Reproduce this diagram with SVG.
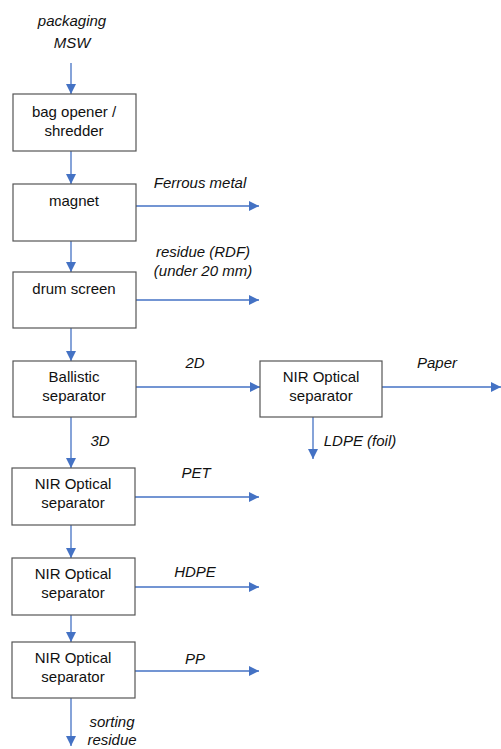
<svg xmlns="http://www.w3.org/2000/svg" width="501" height="749" viewBox="0 0 501 749">
<style>
.box{fill:#fff;stroke:#555;stroke-width:1.2}
.t{font-family:"Liberation Sans",Arial,sans-serif;font-size:15px;fill:#111;text-anchor:middle}
.l{font-family:"Liberation Sans",Arial,sans-serif;font-size:15px;font-style:italic;fill:#111;text-anchor:middle}
.c{stroke:#4472C4;stroke-width:1.3;fill:none;marker-end:url(#ah)}
</style>
<defs>
<marker id="ah" viewBox="0 0 10 10" refX="10" refY="5" markerWidth="10" markerHeight="10" markerUnits="userSpaceOnUse" orient="auto">
<path d="M0,0 L10,5 L0,10 Z" fill="#4472C4"/>
</marker>
</defs>
<g id="connectors">
<path class="c" d="M71,63 V94"/>
<path class="c" d="M71,151 V184"/>
<path class="c" d="M136,206 H259"/>
<path class="c" d="M71,241 V272"/>
<path class="c" d="M136,300 H259"/>
<path class="c" d="M71,328 V361"/>
<path class="c" d="M136,387 H260"/>
<path class="c" d="M382,387 H501"/>
<path class="c" d="M313,417 V459"/>
<path class="c" d="M71,417 V468"/>
<path class="c" d="M135,497 H259"/>
<path class="c" d="M71,525 V558"/>
<path class="c" d="M135,587 H259"/>
<path class="c" d="M71,615 V642"/>
<path class="c" d="M135,671 H259"/>
<path class="c" d="M71,698 V746"/>
</g>
<g id="labels">
<text class="l" x="72" y="26">packaging</text>
<text class="l" x="72" y="48">MSW</text>
<text class="l" x="200" y="188">Ferrous metal</text>
<text class="l" x="203" y="257">residue (RDF)</text>
<text class="l" x="203" y="276">(under 20 mm)</text>
<text class="l" x="195" y="368">2D</text>
<text class="l" x="437" y="368">Paper</text>
<text class="l" x="360" y="446">LDPE (foil)</text>
<text class="l" x="100" y="446">3D</text>
<text class="l" x="196" y="478">PET</text>
<text class="l" x="195" y="577">HDPE</text>
<text class="l" x="195" y="664">PP</text>
<text class="l" x="112" y="727">sorting</text>
<text class="l" x="112" y="745">residue</text>
</g>
<g id="bag-opener">
<rect class="box" x="13" y="94" width="123" height="57"/>
<text class="t" x="74" y="117">bag opener /</text>
<text class="t" x="74" y="136">shredder</text>
</g>
<g id="magnet">
<rect class="box" x="13" y="184" width="123" height="57"/>
<text class="t" x="74" y="206">magnet</text>
</g>
<g id="drum-screen">
<rect class="box" x="13" y="272" width="123" height="56"/>
<text class="t" x="74" y="294">drum screen</text>
</g>
<g id="ballistic">
<rect class="box" x="13" y="361" width="123" height="56"/>
<text class="t" x="74" y="382">Ballistic</text>
<text class="t" x="74" y="401">separator</text>
</g>
<g id="nir-paper">
<rect class="box" x="260" y="361" width="122" height="56"/>
<text class="t" x="321" y="382">NIR Optical</text>
<text class="t" x="321" y="401">separator</text>
</g>
<g id="nir-pet">
<rect class="box" x="12" y="468" width="123" height="57"/>
<text class="t" x="73" y="489">NIR Optical</text>
<text class="t" x="73" y="508">separator</text>
</g>
<g id="nir-hdpe">
<rect class="box" x="12" y="558" width="123" height="57"/>
<text class="t" x="73" y="579">NIR Optical</text>
<text class="t" x="73" y="598">separator</text>
</g>
<g id="nir-pp">
<rect class="box" x="12" y="642" width="123" height="56"/>
<text class="t" x="73" y="663">NIR Optical</text>
<text class="t" x="73" y="682">separator</text>
</g>
</svg>
